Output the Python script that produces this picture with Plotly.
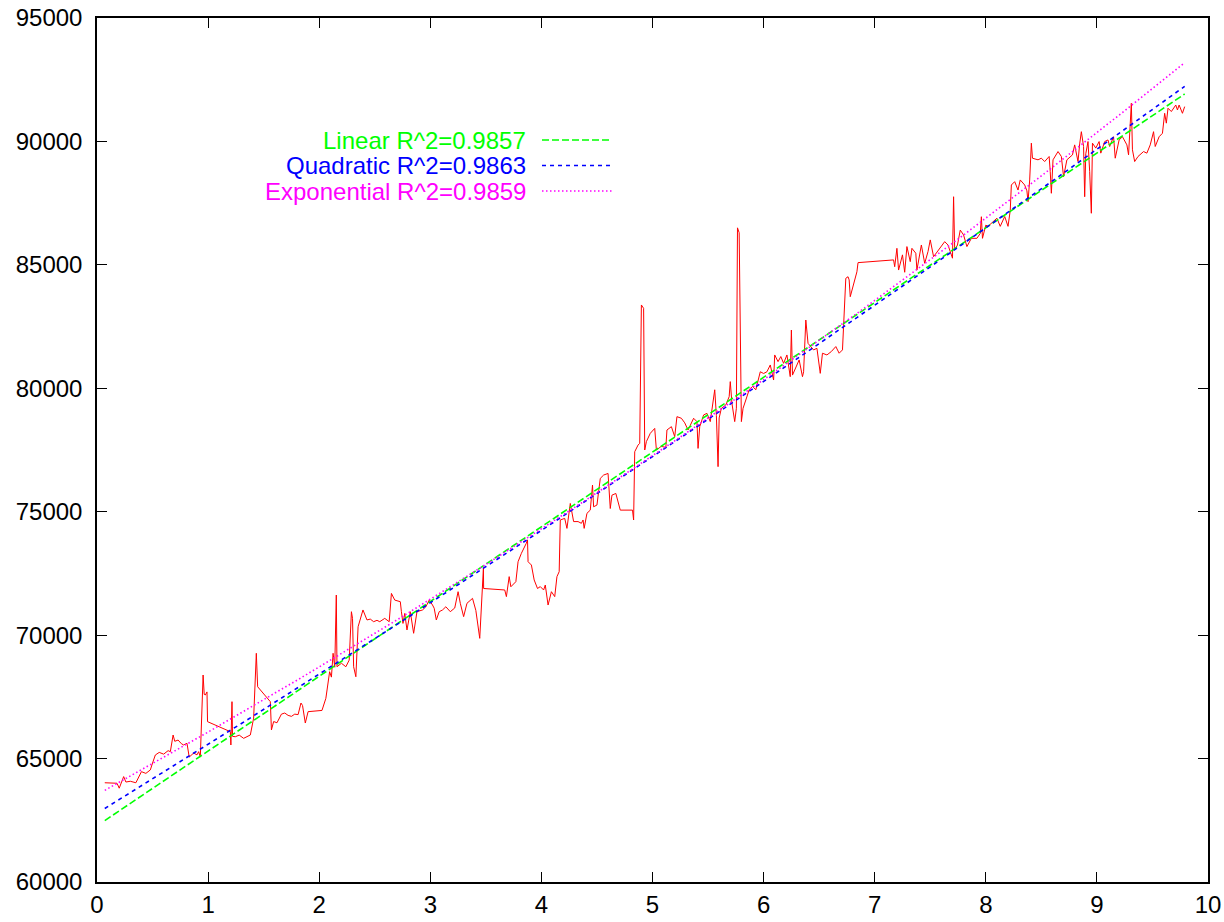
import numpy as np
import plotly.graph_objects as go

# ---- data ----
x_data = [0.07, 0.18, 0.20, 0.22, 0.24, 0.26, 0.30, 0.35, 0.40, 0.44, 0.48, 0.50, 0.525, 0.56, 0.60,
          0.64, 0.66, 0.685, 0.70, 0.73, 0.76, 0.78, 0.81, 0.83, 0.87, 0.90, 0.915, 0.93, 0.955, 0.965,
          0.975, 0.99, 0.995, 1.20, 1.205, 1.215, 1.22, 1.245, 1.28, 1.32, 1.35, 1.38, 1.41, 1.434, 1.446,
          1.56, 1.57, 1.59, 1.62, 1.64, 1.66, 1.69, 1.72, 1.75, 1.78, 1.81, 1.836, 1.85, 1.875, 1.90,
          2.025, 2.06, 2.08, 2.094, 2.11, 2.125, 2.14, 2.154, 2.16, 2.20, 2.24, 2.27, 2.29, 2.30, 2.31,
          2.33, 2.35, 2.394, 2.43, 2.46, 2.49, 2.52, 2.545, 2.59, 2.63, 2.65, 2.68, 2.73, 2.74, 2.754,
          2.77, 2.79, 2.82, 2.85, 2.88, 2.93, 2.96, 2.99, 3.02, 3.035, 3.054, 3.08, 3.11, 3.14, 3.18,
          3.22, 3.25, 3.27, 3.30, 3.33, 3.38, 3.41, 3.445, 3.46, 3.474, 3.478, 3.48, 3.67, 3.685, 3.71,
          3.725, 3.77, 3.79, 3.82, 3.864, 3.875, 3.88, 3.91, 3.935, 3.965, 3.99, 4.02, 4.035, 4.06, 4.09,
          4.12, 4.14, 4.16, 4.17, 4.21, 4.23, 4.26, 4.29, 4.33, 4.36, 4.375, 4.385, 4.41, 4.44, 4.46,
          4.47, 4.50, 4.53, 4.56, 4.60, 4.62, 4.635, 4.67, 4.71, 4.82, 4.83, 4.84, 4.87, 4.885, 4.90,
          4.92, 4.93, 4.945, 4.98, 5.02, 5.035, 5.08, 5.12, 5.13, 5.17, 5.20, 5.22, 5.26, 5.29, 5.32,
          5.37, 5.40, 5.41, 5.425, 5.46, 5.49, 5.52, 5.56, 5.575, 5.59, 5.60, 5.62, 5.66, 5.69, 5.70,
          5.715, 5.74, 5.755, 5.765, 5.78, 5.80, 5.815, 5.84, 5.87, 5.90, 5.93, 5.97, 6.00, 6.03, 6.06,
          6.09, 6.10, 6.13, 6.155, 6.18, 6.21, 6.24, 6.25, 6.26, 6.32, 6.35, 6.36, 6.38, 6.40, 6.45,
          6.48, 6.51, 6.53, 6.57, 6.61, 6.65, 6.68, 6.71, 6.72, 6.74, 6.76, 6.77, 6.78, 6.81, 6.84,
          6.85, 7.17, 7.18, 7.20, 7.215, 7.25, 7.27, 7.29, 7.32, 7.335, 7.37, 7.38, 7.42, 7.45, 7.48,
          7.50, 7.53, 7.59, 7.63, 7.66, 7.70, 7.71, 7.72, 7.745, 7.77, 7.80, 7.83, 7.87, 7.92, 7.95,
          7.96, 7.97, 8.00, 8.02, 8.07, 8.10, 8.13, 8.17, 8.20, 8.22, 8.23, 8.26, 8.29, 8.31, 8.35,
          8.37, 8.38, 8.395, 8.41, 8.42, 8.47, 8.50, 8.53, 8.57, 8.58, 8.59, 8.605, 8.65, 8.68, 8.70,
          8.73, 8.78, 8.80, 8.83, 8.845, 8.86, 8.88, 8.89, 8.90, 8.92, 8.935, 8.95, 8.96, 8.99, 9.02,
          9.035, 9.07, 9.10, 9.115, 9.15, 9.165, 9.20, 9.23, 9.27, 9.285, 9.30, 9.31, 9.32, 9.34, 9.37,
          9.42, 9.45, 9.48, 9.51, 9.525, 9.56, 9.59, 9.61, 9.625, 9.64, 9.67, 9.71, 9.725, 9.74, 9.77,
          9.79]
y_data = [64020, 64000, 63800, 64000, 64270, 64050, 64080, 64020, 64470, 64400, 64540, 64820, 65145, 65250, 65180,
          65320, 65280, 65955, 65700, 65750, 65600, 65550, 65620, 65060, 65225, 65150, 65280, 65060, 68385, 67600,
          67575, 67700, 66495, 66090, 65550, 67305, 65900, 65885, 65950, 65820, 65900, 65955, 66640, 69265, 67910,
          67305, 66160, 66500, 66450, 66640, 66800, 66845, 66750, 66710, 66800, 66780, 67250, 67150, 66440, 66900,
          66950, 67440, 68200, 68520, 68300, 69265, 68700, 71625, 68720, 68860, 68720, 68990, 70950, 70680, 68720,
          68315, 70340, 71020, 70615, 70650, 70545, 70600, 70545, 70680, 70545, 71690, 71420, 71355, 70950, 70475,
          70880, 70210, 70950, 70075, 70950, 71020, 71150, 71420, 71220, 71090, 70615, 70950, 71020, 71150, 70950,
          71100, 71760, 71290, 70750, 71290, 71490, 71000, 69870, 71420, 72165, 72720, 71890, 71830, 71560, 72370,
          71960, 72165, 72975, 73315, 73720, 73860, 72975, 72840, 72235, 71890, 71965, 71830, 72030, 71220, 71760,
          71560, 72370, 72570, 74665, 74730, 74325, 75335, 74600, 74600, 74530, 74665, 74325, 74935, 75065, 76080,
          75200, 75270, 76350, 76485, 76550, 75130, 75670, 75740, 75065, 75065, 74665, 77430, 77700, 77770, 83375,
          83240, 77500, 77840, 78175, 78375, 77500, 77650, 77600, 78310, 78445, 78040, 78850, 78785, 78600, 78310,
          78785, 78650, 77565, 78445, 78920, 78985, 78650, 79940, 78900, 76825, 78800, 79190, 79325, 79660, 80270,
          79390, 78650, 79190, 86500, 86300, 78650, 79190, 79525, 79940, 80075, 79940, 80670, 80600, 80670, 80945,
          80335, 81350, 81080, 81285, 81010, 81350, 80470, 82360, 80535, 81150, 80470, 80670, 82765, 81820, 81555,
          81620, 80605, 81420, 81350, 81490, 81690, 81420, 81555, 82630, 84455, 84520, 84390, 83710, 84250, 84720,
          85090, 85200, 84925, 85670, 84790, 85405, 84700, 85740, 85130, 85670, 85470, 84790, 85805, 85065, 85540,
          86010, 85330, 85670, 85940, 85805, 85270, 87760, 85600, 85805, 86410, 86210, 85740, 86075, 86075, 86275,
          86950, 86075, 86610, 86560, 86760, 86890, 86560, 86960, 86560, 87200, 88235, 88370, 88030, 88440, 88235,
          88000, 87560, 88440, 89930, 89320, 89255, 89320, 89185, 89390, 88775, 87900, 89255, 89590, 89390, 88570,
          89255, 89455, 89860, 89185, 89900, 90395, 89795, 87760, 89500, 89995, 88775, 87090, 89930, 89730, 89995,
          89525, 89995, 90060, 89795, 90190, 89320, 90060, 90190, 89860, 89455, 90600, 91545, 89660, 89185, 89390,
          89590, 89525, 89860, 90395, 89795, 90190, 90330, 91140, 90740, 91345, 91210, 91475, 91275, 91475, 91140,
          91410]

# fit coefficients
lin_a, lin_b = 62277.0, 3028.0
quad_a, quad_b, quad_c = 62784.0, 2766.0, 24.7
exp_a, exp_k = 63539.0, 0.03912

fit_labels = ["Linear R^2=0.9857", "Quadratic R^2=0.9863", "Exponential R^2=0.9859"]
fit_colors = ["#00ff00", "#0000ff", "#ff00ff"]
fit_dashes = ["7px,3px", "4px,4px", "1.5px,2.5px"]

x_tick_vals = list(range(0, 11))
y_tick_vals = list(range(60000, 95001, 5000))

# ---- figure ----
xf = np.linspace(min(x_data), max(x_data), 200)
fits = [lin_a + lin_b * xf,
        quad_a + quad_b * xf + quad_c * xf ** 2,
        exp_a * np.exp(exp_k * xf)]

fig = go.Figure()
fig.add_trace(go.Scatter(x=x_data, y=y_data, mode="lines",
                         line=dict(color="#ff0000", width=1), showlegend=False))
for yf, col, dsh in zip(fits, fit_colors, fit_dashes):
    fig.add_trace(go.Scatter(x=xf, y=yf, mode="lines",
                             line=dict(color=col, width=1.6, dash=dsh), showlegend=False))

# legend: text on left, sample on right (gnuplot style)
W, H = 1224, 922
ml, mr, mt, mb = 97, 16, 18, 40
pw, ph = W - ml - mr, H - mt - mb
def px_x(p):
    return (p - ml) / pw
def px_y(p):
    return (H - mb - p) / ph

rows_py = [140, 165.5, 191]
for lab, col, dsh, py in zip(fit_labels, fit_colors, fit_dashes, rows_py):
    fig.add_annotation(xref="paper", yref="paper", x=px_x(527), y=px_y(py),
                       text=lab, showarrow=False, xanchor="right", yanchor="middle",
                       borderpad=0,
                       font=dict(family="Liberation Sans, Arial, sans-serif", size=24, color=col))
    fig.add_shape(type="line", xref="paper", yref="paper",
                  x0=px_x(542), x1=px_x(612), y0=px_y(py), y1=px_y(py),
                  line=dict(color=col, width=1.6, dash=dsh))

axis_common = dict(showgrid=False, zeroline=False, showline=True, linecolor="black",
                   linewidth=1.5, mirror="ticks", ticks="inside", ticklen=10,
                   tickwidth=1.2, tickcolor="black", automargin=False,
                   tickfont=dict(family="Liberation Sans, Arial, sans-serif", size=24, color="black"))
fig.update_xaxes(range=[0, 10], tickvals=x_tick_vals, **axis_common)
fig.update_yaxes(range=[60000, 95000], tickvals=y_tick_vals, tickformat="d",
                 ticklabelstandoff=8, **axis_common)

fig.update_layout(width=W, height=H, margin=dict(l=ml, r=mr, t=mt, b=mb, pad=0, autoexpand=False),
                  paper_bgcolor="white", plot_bgcolor="white", showlegend=False)

fig.write_html("out.html")
